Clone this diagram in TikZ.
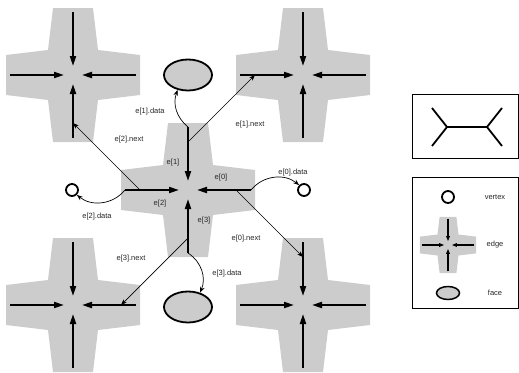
\documentclass[tikz,border=0pt]{standalone}
\usepackage{fontspec}
\setmainfont{Liberation Sans}
\usetikzlibrary{arrows.meta,positioning,shapes.geometric,calc}
\tikzstyle{vert}=[circle, draw=black, line width=1.8pt, fill=white,
  minimum size=12pt, inner sep=0pt]
\tikzstyle{face}=[ellipse, draw=black, line width=1.8pt, fill=black!20,
  minimum width=48pt, minimum height=31pt, inner sep=0pt]
\tikzstyle{lbl}=[font=\fontsize{7.5}{9}\selectfont, text=black!85, inner sep=1pt]
\tikzstyle{link}=[-{Stealth[length=6pt,width=4.5pt]}, line width=0.7pt]
\tikzstyle{hedge}=[-{Triangle[length=10pt,width=6pt]}, line width=2pt]
\tikzstyle{keybox}=[rectangle, draw=black, line width=0.8pt, minimum width=106pt]
\tikzstyle{tree}=[line width=1.8pt]
\tikzset{
  quad/.pic={
    \fill[black!20] (-20,-67) -- (20,-67) -- (25,-25) -- (67,-20) -- (67,20) -- (25,25)
      -- (20,67) -- (-20,67) -- (-25,25) -- (-67,20) -- (-67,-20) -- (-25,-25) -- cycle;
    \foreach \d/\x/\y in {n/0/-1, e/1/0, s/0/1, w/-1/0} {
      \coordinate (-\d) at (63*\x,63*\y);
      \coordinate (-m\d) at (48*\x,48*\y);
      \draw[hedge] (-\d) -- (9*\x,9*\y);
    }
  }
}

\begin{document}
\begin{tikzpicture}[x=1pt, y=-1pt]
\useasboundingbox (0,0) rectangle (519,372);
% half-edges around the four faces
\pic (tl) at (73,75) {quad};
\pic (tr) at (303,75) {quad};
\pic (c) at (188,190) {quad};
\pic (bl) at (73,305) {quad};
\pic (br) at (303,305) {quad};
\node[face] (f1) at (188,75) {};
\node[face] (f3) at (188,307) {};
\node[vert] (v0) at (304,190) {};
\node[vert] (v2) at (72,190) {};
% next pointers
\draw[link] (c-mn) -- (tr-mw);
\draw[link] (c-mw) -- (tl-ms);
\draw[link] (c-me) -- (br-mn);
\draw[link] (c-ms) -- (bl-me);
% data pointers
\draw[link] (c-n) to[bend left=35] (f1);
\draw[link] (c-s) to[bend left=40] (f3);
\draw[link] (c-w) to[bend left=45] (v2);
\draw[link] (c-e) to[bend left=45] (v0);
\node[lbl] (l1d) at (150,112) {e[1].data};
\node[lbl] (l1n) at (250,125) {e[1].next};
\node[lbl] (l2n) at (129,140) {e[2].next};
\node[lbl] (l1) at (173,163) {e[1]};
\node[lbl] (l0) at (221,178) {e[0]};
\node[lbl] (l0d) at (293,173) {e[0].data};
\node[lbl] (l2) at (160,204) {e[2]};
\node[lbl] (l3) at (204,221) {e[3]};
\node[lbl] (l2d) at (97,217) {e[2].data};
\node[lbl] (l0n) at (246,239) {e[0].next};
\node[lbl] (l3n) at (131,259) {e[3].next};
\node[lbl] (l3d) at (227,274) {e[3].data};
% key
\node[keybox, minimum height=64pt] (k1) at (465,126) {};
\draw[tree] (432,108) -- (447,127) -- (432,146);
\draw[tree] (447,127) -- (487,127);
\draw[tree] (502,108) -- (487,127) -- (502,146);
\node[keybox, minimum height=131pt] (k2) at (465,242.5) {};
\node[vert] (kv) at (448,197) {};
\node[lbl] (kvt) at (495,197) {vertex};
\pic[scale=0.42, hedge/.style={-{Triangle[length=5pt,width=3.5pt]}, line width=1.3pt}] (ke) at (448,245) {quad};
\node[lbl] (ket) at (495,245) {edge};
\node[face, minimum width=23pt, minimum height=13pt, line width=1.5pt] (kf) at (448,293) {};
\node[lbl] (kft) at (495,293) {face};
\end{tikzpicture}
\end{document}
